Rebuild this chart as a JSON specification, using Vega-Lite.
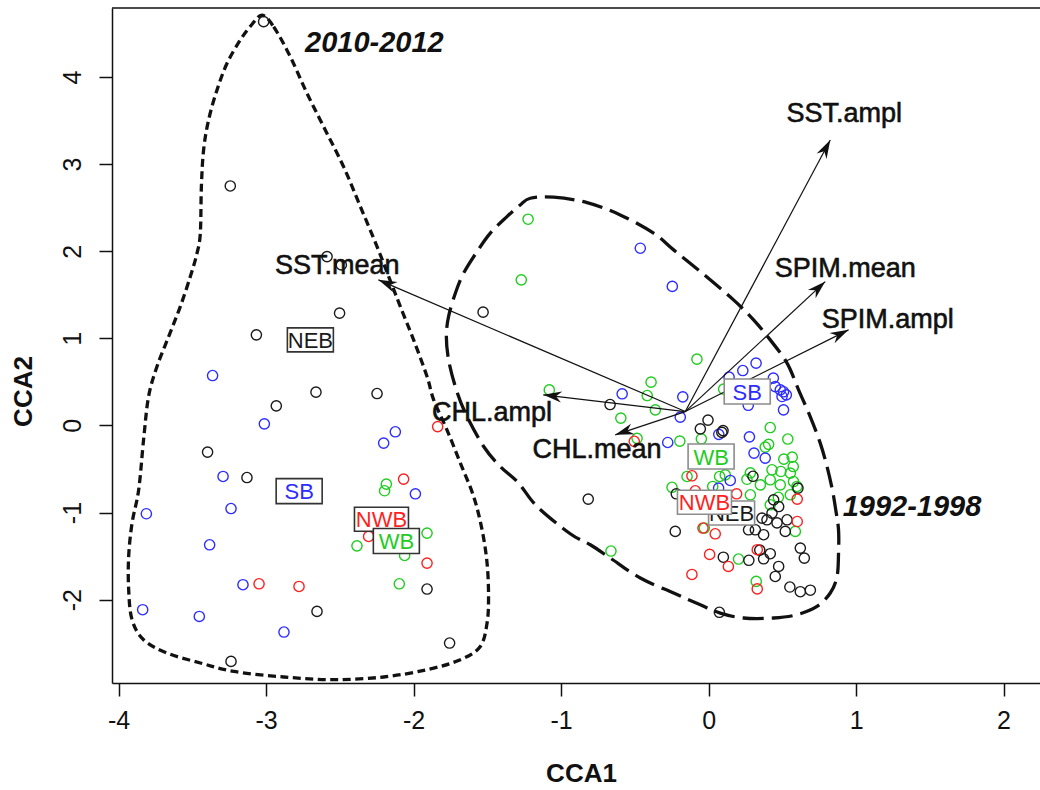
{
  "$schema": "https://vega.github.io/schema/vega-lite/v6.json",
  "width": 928,
  "height": 675,
  "autosize": {"type": "none"},
  "padding": {"left": 112, "top": 8, "right": 0, "bottom": 107},
  "background": "white",
  "config": {
    "view": {"stroke": null},
    "font": "Liberation Sans",
    "axis": {
      "grid": false,
      "domainColor": "#111",
      "domainWidth": 1.5,
      "tickColor": "#111",
      "tickWidth": 1.5,
      "tickSize": 13,
      "labelFont": "Liberation Sans",
      "labelFontSize": 25,
      "labelColor": "#111",
      "labelFlush": false,
      "labelOverlap": false,
      "titleFont": "Liberation Sans",
      "titleFontSize": 26,
      "titleFontWeight": "bold",
      "titleColor": "#111"
    }
  },
  "datasets": {
    "hullA": [
      {"i": 1, "x": -3.026, "y": 4.711}, {"i": 2, "x": -2.949, "y": 4.577}, {"i": 3, "x": -2.836, "y": 4.233},
      {"i": 4, "x": -2.723, "y": 3.813}, {"i": 5, "x": -2.599, "y": 3.392}, {"i": 6, "x": -2.475, "y": 2.971},
      {"i": 7, "x": -2.361, "y": 2.512}, {"i": 8, "x": -2.248, "y": 2.053}, {"i": 9, "x": -2.169, "y": 1.709},
      {"i": 10, "x": -2.09, "y": 1.364}, {"i": 11, "x": -2.0, "y": 0.982}, {"i": 12, "x": -1.909, "y": 0.561},
      {"i": 13, "x": -1.864, "y": 0.294}, {"i": 14, "x": -1.774, "y": -0.05}, {"i": 15, "x": -1.683, "y": -0.433},
      {"i": 16, "x": -1.593, "y": -0.816}, {"i": 17, "x": -1.536, "y": -1.198}, {"i": 18, "x": -1.502, "y": -1.58},
      {"i": 19, "x": -1.492, "y": -1.963}, {"i": 20, "x": -1.502, "y": -2.268}, {"i": 21, "x": -1.548, "y": -2.537},
      {"i": 22, "x": -1.683, "y": -2.69}, {"i": 23, "x": -1.909, "y": -2.804}, {"i": 24, "x": -2.203, "y": -2.888},
      {"i": 25, "x": -2.542, "y": -2.919}, {"i": 26, "x": -2.881, "y": -2.888}, {"i": 27, "x": -3.22, "y": -2.824},
      {"i": 28, "x": -3.446, "y": -2.727}, {"i": 29, "x": -3.672, "y": -2.613}, {"i": 30, "x": -3.831, "y": -2.46},
      {"i": 31, "x": -3.909, "y": -2.231}, {"i": 32, "x": -3.932, "y": -1.886}, {"i": 33, "x": -3.932, "y": -1.504},
      {"i": 34, "x": -3.909, "y": -1.121}, {"i": 35, "x": -3.864, "y": -0.739}, {"i": 36, "x": -3.831, "y": -0.165},
      {"i": 37, "x": -3.797, "y": 0.332}, {"i": 38, "x": -3.74, "y": 0.676}, {"i": 39, "x": -3.661, "y": 1.02},
      {"i": 40, "x": -3.582, "y": 1.364}, {"i": 41, "x": -3.514, "y": 1.709}, {"i": 42, "x": -3.468, "y": 1.981},
      {"i": 43, "x": -3.446, "y": 2.21}, {"i": 44, "x": -3.439, "y": 2.741}, {"i": 45, "x": -3.424, "y": 3.162},
      {"i": 46, "x": -3.39, "y": 3.507}, {"i": 47, "x": -3.333, "y": 3.851}, {"i": 48, "x": -3.265, "y": 4.157},
      {"i": 49, "x": -3.175, "y": 4.425}, {"i": 50, "x": -3.094, "y": 4.608}
    ],
    "hullB": [
      {"i": 1, "x": -1.209, "y": 2.608}, {"i": 2, "x": -1.051, "y": 2.62}, {"i": 3, "x": -0.824, "y": 2.558},
      {"i": 4, "x": -0.599, "y": 2.417}, {"i": 5, "x": -0.373, "y": 2.207}, {"i": 6, "x": -0.237, "y": 2.015},
      {"i": 7, "x": -0.056, "y": 1.766}, {"i": 8, "x": 0.169, "y": 1.441}, {"i": 9, "x": 0.305, "y": 1.212},
      {"i": 10, "x": 0.418, "y": 0.982}, {"i": 11, "x": 0.532, "y": 0.715}, {"i": 12, "x": 0.61, "y": 0.408},
      {"i": 13, "x": 0.689, "y": 0.102}, {"i": 14, "x": 0.757, "y": -0.203}, {"i": 15, "x": 0.803, "y": -0.472},
      {"i": 16, "x": 0.839, "y": -0.739}, {"i": 17, "x": 0.862, "y": -0.968}, {"i": 18, "x": 0.881, "y": -1.198},
      {"i": 19, "x": 0.881, "y": -1.465}, {"i": 20, "x": 0.871, "y": -1.734}, {"i": 21, "x": 0.825, "y": -1.924},
      {"i": 22, "x": 0.735, "y": -2.078}, {"i": 23, "x": 0.599, "y": -2.173}, {"i": 24, "x": 0.441, "y": -2.211},
      {"i": 25, "x": 0.237, "y": -2.211}, {"i": 26, "x": 0.079, "y": -2.154}, {"i": 27, "x": -0.056, "y": -2.059},
      {"i": 28, "x": -0.237, "y": -1.924}, {"i": 29, "x": -0.463, "y": -1.752}, {"i": 30, "x": -0.666, "y": -1.523},
      {"i": 31, "x": -0.802, "y": -1.37}, {"i": 32, "x": -0.938, "y": -1.244}, {"i": 33, "x": -1.163, "y": -0.931},
      {"i": 34, "x": -1.29, "y": -0.659}, {"i": 35, "x": -1.412, "y": -0.472}, {"i": 36, "x": -1.525, "y": -0.242},
      {"i": 37, "x": -1.649, "y": 0.141}, {"i": 38, "x": -1.717, "y": 0.446}, {"i": 39, "x": -1.763, "y": 0.753},
      {"i": 40, "x": -1.778, "y": 1.02}, {"i": 41, "x": -1.763, "y": 1.25}, {"i": 42, "x": -1.717, "y": 1.518},
      {"i": 43, "x": -1.661, "y": 1.748}, {"i": 44, "x": -1.57, "y": 1.995}, {"i": 45, "x": -1.48, "y": 2.207},
      {"i": 46, "x": -1.367, "y": 2.397}, {"i": 47, "x": -1.277, "y": 2.531}
    ],
    "pts": [
      {"x": -3.017, "y": 4.635, "r": "NEB"}, {"x": -3.243, "y": 2.749, "r": "NEB"}, {"x": -2.587, "y": 1.938, "r": "NEB"},
      {"x": -2.49, "y": 1.843, "r": "NEB"}, {"x": -2.502, "y": 1.289, "r": "NEB"}, {"x": -3.066, "y": 1.04, "r": "NEB"},
      {"x": -1.529, "y": 1.3, "r": "NEB"}, {"x": -2.662, "y": 0.382, "r": "NEB"}, {"x": -2.248, "y": 0.366, "r": "NEB"},
      {"x": -2.931, "y": 0.225, "r": "NEB"}, {"x": -3.397, "y": -0.306, "r": "NEB"}, {"x": -3.13, "y": -0.598, "r": "NEB"},
      {"x": -2.655, "y": -2.135, "r": "NEB"}, {"x": -1.909, "y": -1.878, "r": "NEB"}, {"x": -1.756, "y": -2.498, "r": "NEB"},
      {"x": -3.238, "y": -2.709, "r": "NEB"},
      {"x": -3.363, "y": 0.573, "r": "SB"}, {"x": -3.012, "y": 0.018, "r": "SB"}, {"x": -2.124, "y": -0.073, "r": "SB"},
      {"x": -2.203, "y": -0.203, "r": "SB"}, {"x": -3.292, "y": -0.586, "r": "SB"}, {"x": -1.988, "y": -0.785, "r": "SB"},
      {"x": -3.812, "y": -1.014, "r": "SB"}, {"x": -3.238, "y": -0.954, "r": "SB"}, {"x": -3.383, "y": -1.37, "r": "SB"},
      {"x": -3.157, "y": -1.829, "r": "SB"}, {"x": -3.837, "y": -2.116, "r": "SB"}, {"x": -3.453, "y": -2.193, "r": "SB"},
      {"x": -2.879, "y": -2.372, "r": "SB"},
      {"x": -1.837, "y": -0.013, "r": "NWB"}, {"x": -2.068, "y": -0.616, "r": "NWB"}, {"x": -2.305, "y": -1.275, "r": "NWB"},
      {"x": -1.909, "y": -1.58, "r": "NWB"}, {"x": -3.048, "y": -1.818, "r": "NWB"}, {"x": -2.777, "y": -1.849, "r": "NWB"},
      {"x": -2.185, "y": -0.674, "r": "WB"}, {"x": -2.197, "y": -0.75, "r": "WB"}, {"x": -1.909, "y": -1.236, "r": "WB"},
      {"x": -2.384, "y": -1.382, "r": "WB"}, {"x": -2.061, "y": -1.493, "r": "WB"}, {"x": -2.097, "y": -1.818, "r": "WB"},
      {"x": -1.224, "y": 2.367, "r": "WB"}, {"x": -1.27, "y": 1.671, "r": "WB"}, {"x": -0.079, "y": 0.761, "r": "WB"},
      {"x": -0.39, "y": 0.497, "r": "WB"}, {"x": -1.08, "y": 0.408, "r": "WB"}, {"x": -0.416, "y": 0.343, "r": "WB"},
      {"x": -0.361, "y": 0.179, "r": "WB"}, {"x": -0.595, "y": 0.084, "r": "WB"}, {"x": -0.485, "y": -0.148, "r": "WB"},
      {"x": 0.102, "y": 0.417, "r": "WB"}, {"x": -0.195, "y": -0.18, "r": "WB"}, {"x": -0.049, "y": -0.154, "r": "WB"},
      {"x": 0.418, "y": -0.024, "r": "WB"}, {"x": 0.537, "y": -0.156, "r": "WB"}, {"x": 0.384, "y": -0.249, "r": "WB"},
      {"x": 0.407, "y": -0.217, "r": "WB"}, {"x": 0.51, "y": -0.387, "r": "WB"}, {"x": 0.567, "y": -0.364, "r": "WB"},
      {"x": 0.574, "y": -0.472, "r": "WB"}, {"x": 0.43, "y": -0.509, "r": "WB"}, {"x": 0.49, "y": -0.529, "r": "WB"},
      {"x": 0.554, "y": -0.547, "r": "WB"}, {"x": -0.146, "y": -0.586, "r": "WB"}, {"x": 0.075, "y": -0.586, "r": "WB"},
      {"x": 0.113, "y": -0.567, "r": "WB"}, {"x": 0.26, "y": -0.618, "r": "WB"}, {"x": 0.351, "y": -0.682, "r": "WB"},
      {"x": 0.418, "y": -0.624, "r": "WB"}, {"x": 0.486, "y": -0.682, "r": "WB"}, {"x": 0.576, "y": -0.644, "r": "WB"},
      {"x": 0.599, "y": -0.701, "r": "WB"}, {"x": -0.248, "y": -0.71, "r": "WB"}, {"x": 0.028, "y": -0.701, "r": "WB"},
      {"x": 0.283, "y": -0.796, "r": "WB"}, {"x": 0.554, "y": -0.796, "r": "WB"}, {"x": 0.473, "y": -0.825, "r": "WB"},
      {"x": 0.418, "y": -0.911, "r": "WB"}, {"x": 0.588, "y": -1.217, "r": "WB"}, {"x": -0.029, "y": -1.178, "r": "WB"},
      {"x": 0.203, "y": -1.534, "r": "WB"}, {"x": -0.662, "y": -1.442, "r": "WB"}, {"x": 0.323, "y": -1.791, "r": "WB"},
      {"x": 0.283, "y": -0.544, "r": "WB"},
      {"x": -0.463, "y": 2.034, "r": "SB"}, {"x": -0.246, "y": 1.596, "r": "SB"}, {"x": -0.586, "y": 0.363, "r": "SB"},
      {"x": -0.175, "y": 0.328, "r": "SB"}, {"x": -0.192, "y": 0.095, "r": "SB"}, {"x": 0.322, "y": 0.715, "r": "SB"},
      {"x": 0.232, "y": 0.63, "r": "SB"}, {"x": 0.139, "y": 0.554, "r": "SB"}, {"x": 0.439, "y": 0.543, "r": "SB"},
      {"x": 0.452, "y": 0.446, "r": "SB"}, {"x": 0.486, "y": 0.408, "r": "SB"}, {"x": 0.508, "y": 0.386, "r": "SB"},
      {"x": 0.498, "y": 0.332, "r": "SB"}, {"x": 0.527, "y": 0.351, "r": "SB"}, {"x": 0.269, "y": 0.231, "r": "SB"},
      {"x": 0.508, "y": 0.179, "r": "SB"}, {"x": 0.069, "y": -0.102, "r": "SB"}, {"x": 0.277, "y": -0.131, "r": "SB"},
      {"x": -0.277, "y": -0.196, "r": "SB"}, {"x": 0.308, "y": -0.318, "r": "SB"}, {"x": 0.384, "y": -0.375, "r": "SB"},
      {"x": 0.147, "y": -0.632, "r": "SB"}, {"x": 0.068, "y": -0.719, "r": "SB"},
      {"x": -0.668, "y": 0.24, "r": "NEB"}, {"x": -0.004, "y": 0.061, "r": "NEB"}, {"x": -0.056, "y": -0.039, "r": "NEB"},
      {"x": 0.098, "y": -0.059, "r": "NEB"}, {"x": 0.09, "y": -0.08, "r": "NEB"}, {"x": 0.301, "y": -0.584, "r": "NEB"},
      {"x": 0.606, "y": -0.719, "r": "NEB"}, {"x": -0.816, "y": -0.846, "r": "NEB"}, {"x": -0.219, "y": -0.785, "r": "NEB"},
      {"x": 0.441, "y": -0.854, "r": "NEB"}, {"x": 0.475, "y": -0.931, "r": "NEB"}, {"x": 0.43, "y": -1.006, "r": "NEB"},
      {"x": 0.396, "y": -1.083, "r": "NEB"}, {"x": 0.362, "y": -1.064, "r": "NEB"}, {"x": 0.464, "y": -1.118, "r": "NEB"},
      {"x": 0.532, "y": -1.083, "r": "NEB"}, {"x": 0.52, "y": -1.217, "r": "NEB"}, {"x": 0.271, "y": -1.198, "r": "NEB"},
      {"x": 0.317, "y": -1.198, "r": "NEB"}, {"x": 0.373, "y": -1.255, "r": "NEB"}, {"x": -0.226, "y": -1.217, "r": "NEB"},
      {"x": 0.622, "y": -1.408, "r": "NEB"}, {"x": 0.649, "y": -1.523, "r": "NEB"}, {"x": 0.347, "y": -1.431, "r": "NEB"},
      {"x": 0.418, "y": -1.473, "r": "NEB"}, {"x": 0.373, "y": -1.531, "r": "NEB"}, {"x": 0.273, "y": -1.548, "r": "NEB"},
      {"x": 0.1, "y": -1.513, "r": "NEB"}, {"x": 0.475, "y": -1.619, "r": "NEB"}, {"x": 0.452, "y": -1.734, "r": "NEB"},
      {"x": 0.551, "y": -1.855, "r": "NEB"}, {"x": 0.622, "y": -1.909, "r": "NEB"}, {"x": 0.69, "y": -1.892, "r": "NEB"},
      {"x": 0.073, "y": -2.145, "r": "NEB"},
      {"x": -0.504, "y": -0.182, "r": "NWB"}, {"x": -0.113, "y": -0.578, "r": "NWB"}, {"x": -0.09, "y": -0.75, "r": "NWB"},
      {"x": 0.19, "y": -0.785, "r": "NWB"}, {"x": 0.601, "y": -0.846, "r": "NWB"}, {"x": 0.601, "y": -1.103, "r": "NWB"},
      {"x": -0.038, "y": -1.178, "r": "NWB"}, {"x": 0.045, "y": -1.244, "r": "NWB"}, {"x": 0.007, "y": -1.481, "r": "NWB"},
      {"x": 0.33, "y": -1.427, "r": "NWB"}, {"x": 0.134, "y": -1.619, "r": "NWB"}, {"x": -0.113, "y": -1.711, "r": "NWB"},
      {"x": 0.33, "y": -1.877, "r": "NWB"}
    ],
    "arrows": [
      {"v": "SST.ampl", "x0": -0.158, "y0": 0.159, "x": 0.825, "y": 3.277, "lx": 0.92, "ly": 3.478},
      {"v": "SPIM.mean", "x0": -0.158, "y0": 0.159, "x": 0.791, "y": 1.651, "lx": 0.927, "ly": 1.709},
      {"v": "SPIM.ampl", "x0": -0.158, "y0": 0.159, "x": 0.949, "y": 1.097, "lx": 1.215, "ly": 1.12},
      {"v": "SST.mean", "x0": -0.158, "y0": 0.159, "x": -2.239, "y": 1.671, "lx": -2.517, "ly": 1.74},
      {"v": "CHL.ampl", "x0": -0.158, "y0": 0.159, "x": -1.121, "y": 0.351, "lx": -1.468, "ly": 0.053},
      {"v": "CHL.mean", "x0": -0.158, "y0": 0.159, "x": -0.633, "y": -0.108, "lx": -0.757, "ly": -0.375}
    ],
    "cent": [
      {"r": "NEB", "p": "2010-2012", "x": -2.7, "y": 0.982},
      {"r": "NWB", "p": "2010-2012", "x": -2.218, "y": -1.077},
      {"r": "SB", "p": "2010-2012", "x": -2.776, "y": -0.754},
      {"r": "WB", "p": "2010-2012", "x": -2.117, "y": -1.326},
      {"r": "NEB", "p": "1992-1998", "x": 0.156, "y": -1.006},
      {"r": "NWB", "p": "1992-1998", "x": -0.028, "y": -0.882},
      {"r": "SB", "p": "1992-1998", "x": 0.262, "y": 0.389},
      {"r": "WB", "p": "1992-1998", "x": 0.017, "y": -0.357}
    ],
    "periods": [
      {"p": "2010-2012", "x": -2.266, "y": 4.29},
      {"p": "1992-1998", "x": 1.379, "y": -1.045}
    ]
  },
  "layer": [
    {
      "data": {"name": "hullA"},
      "mark": {"type": "line", "interpolate": "cardinal-closed", "color": "#111", "strokeWidth": 3.3, "strokeDash": [8, 4.5]},
      "encoding": {
        "x": {"field": "x", "type": "quantitative",
          "scale": {"domain": [-4.045, 2.247], "nice": false, "zero": false},
          "axis": {"title": "CCA1", "values": [-4, -3, -2, -1, 0, 1, 2], "labelExpr": "'' + datum.value",
            "labelBaseline": "middle", "labelPadding": 24, "titleX": 469, "titleY": 90, "titleBaseline": "middle", "titleAlign": "center"}},
        "y": {"field": "y", "type": "quantitative",
          "scale": {"domain": [-2.957, 4.792], "nice": false, "zero": false},
          "axis": {"title": "CCA2", "values": [-2, -1, 0, 1, 2, 3, 4], "labelExpr": "'' + datum.value",
            "labelAngle": -90, "labelAlign": "center", "labelBaseline": "middle", "labelPadding": 27,
            "titleX": -89, "titleY": 383, "titleAngle": -90, "titleBaseline": "middle", "titleAlign": "center"}},
        "order": {"field": "i", "type": "quantitative"}
      }
    },
    {
      "data": {"name": "hullB"},
      "mark": {"type": "line", "interpolate": "cardinal-closed", "color": "#111", "strokeWidth": 3.3, "strokeDash": [21, 8]},
      "encoding": {
        "x": {"field": "x", "type": "quantitative"},
        "y": {"field": "y", "type": "quantitative"},
        "order": {"field": "i", "type": "quantitative"}
      }
    },
    {
      "data": {"name": "pts"},
      "mark": {"type": "point", "filled": false, "size": 105, "strokeWidth": 1.4, "opacity": 1},
      "encoding": {
        "x": {"field": "x", "type": "quantitative"},
        "y": {"field": "y", "type": "quantitative"},
        "color": {"field": "r", "type": "nominal",
          "scale": {"domain": ["NEB", "SB", "NWB", "WB"], "range": ["#1a1a1a", "#2d2dff", "#ff1f1f", "#1fcc1f"]},
          "legend": null}
      }
    },
    {
      "data": {"name": "arrows"},
      "mark": {"type": "rule", "color": "#111", "strokeWidth": 1.2},
      "encoding": {
        "x": {"field": "x0", "type": "quantitative"},
        "y": {"field": "y0", "type": "quantitative"},
        "x2": {"field": "x"},
        "y2": {"field": "y"}
      }
    },
    {
      "data": {"name": "arrows"},
      "mark": {"type": "point", "shape": "M0,0L0.55,1.8L0,1.25L-0.55,1.8Z", "size": 420, "filled": true, "color": "#111", "opacity": 1, "strokeWidth": 0.5},
      "encoding": {
        "x": {"field": "x", "type": "quantitative"},
        "y": {"field": "y", "type": "quantitative"},
        "angle": {"field": "v", "type": "nominal",
          "scale": {"type": "ordinal", "domain": ["SST.ampl", "SPIM.mean", "SPIM.ampl", "SST.mean", "CHL.ampl", "CHL.mean"],
            "range": [28.1, 47.1, 63.4, 293.2, 276.7, 251.6]}}
      }
    },
    {
      "data": {"name": "arrows"},
      "mark": {"type": "text", "font": "Liberation Sans", "fontSize": 27, "color": "#111", "stroke": "#111", "strokeWidth": 0.6, "align": "center", "baseline": "alphabetic"},
      "encoding": {
        "x": {"field": "lx", "type": "quantitative"},
        "y": {"field": "ly", "type": "quantitative"},
        "text": {"field": "v"}
      }
    },
    {
      "data": {"name": "cent"},
      "transform": [{"filter": "datum.r === 'NEB'"}],
      "mark": {"type": "point", "shape": "M-23,-12H23V12H-23Z", "size": 4, "filled": true, "fill": "white", "strokeWidth": 1.6, "opacity": 1},
      "encoding": {
        "x": {"field": "x", "type": "quantitative"},
        "y": {"field": "y", "type": "quantitative"},
        "stroke": {"field": "p", "type": "nominal", "scale": {"domain": ["2010-2012", "1992-1998"], "range": ["#333333", "#8c8c8c"]}, "legend": null}
      }
    },
    {
      "data": {"name": "cent"},
      "transform": [{"filter": "datum.r === 'NEB'"}],
      "mark": {"type": "text", "font": "Liberation Sans", "fontSize": 22, "align": "center", "baseline": "middle", "dy": 1},
      "encoding": {
        "x": {"field": "x", "type": "quantitative"},
        "y": {"field": "y", "type": "quantitative"},
        "text": {"field": "r"},
        "color": {"field": "r", "type": "nominal", "scale": {"domain": ["NEB", "SB", "NWB", "WB"], "range": ["#1a1a1a", "#2d2dff", "#ff1f1f", "#1fcc1f"]}, "legend": null}
      }
    },
    {
      "data": {"name": "cent"},
      "transform": [{"filter": "datum.r === 'NWB'"}],
      "mark": {"type": "point", "shape": "M-27,-12H27V12H-27Z", "size": 4, "filled": true, "fill": "white", "strokeWidth": 1.6, "opacity": 1},
      "encoding": {
        "x": {"field": "x", "type": "quantitative"},
        "y": {"field": "y", "type": "quantitative"},
        "stroke": {"field": "p", "type": "nominal", "scale": {"domain": ["2010-2012", "1992-1998"], "range": ["#333333", "#8c8c8c"]}, "legend": null}
      }
    },
    {
      "data": {"name": "cent"},
      "transform": [{"filter": "datum.r === 'NWB'"}],
      "mark": {"type": "text", "font": "Liberation Sans", "fontSize": 22, "align": "center", "baseline": "middle", "dy": 1},
      "encoding": {
        "x": {"field": "x", "type": "quantitative"},
        "y": {"field": "y", "type": "quantitative"},
        "text": {"field": "r"},
        "color": {"field": "r", "type": "nominal", "scale": {"domain": ["NEB", "SB", "NWB", "WB"], "range": ["#1a1a1a", "#2d2dff", "#ff1f1f", "#1fcc1f"]}, "legend": null}
      }
    },
    {
      "data": {"name": "cent"},
      "transform": [{"filter": "datum.r === 'SB'"}],
      "mark": {"type": "point", "shape": "M-23,-12.5H23V12.5H-23Z", "size": 4, "filled": true, "fill": "white", "strokeWidth": 1.6, "opacity": 1},
      "encoding": {
        "x": {"field": "x", "type": "quantitative"},
        "y": {"field": "y", "type": "quantitative"},
        "stroke": {"field": "p", "type": "nominal", "scale": {"domain": ["2010-2012", "1992-1998"], "range": ["#333333", "#8c8c8c"]}, "legend": null}
      }
    },
    {
      "data": {"name": "cent"},
      "transform": [{"filter": "datum.r === 'SB'"}],
      "mark": {"type": "text", "font": "Liberation Sans", "fontSize": 22, "align": "center", "baseline": "middle", "dy": 1},
      "encoding": {
        "x": {"field": "x", "type": "quantitative"},
        "y": {"field": "y", "type": "quantitative"},
        "text": {"field": "r"},
        "color": {"field": "r", "type": "nominal", "scale": {"domain": ["NEB", "SB", "NWB", "WB"], "range": ["#1a1a1a", "#2d2dff", "#ff1f1f", "#1fcc1f"]}, "legend": null}
      }
    },
    {
      "data": {"name": "cent"},
      "transform": [{"filter": "datum.r === 'WB'"}],
      "mark": {"type": "point", "shape": "M-23,-12.5H23V12.5H-23Z", "size": 4, "filled": true, "fill": "white", "strokeWidth": 1.6, "opacity": 1},
      "encoding": {
        "x": {"field": "x", "type": "quantitative"},
        "y": {"field": "y", "type": "quantitative"},
        "stroke": {"field": "p", "type": "nominal", "scale": {"domain": ["2010-2012", "1992-1998"], "range": ["#333333", "#8c8c8c"]}, "legend": null}
      }
    },
    {
      "data": {"name": "cent"},
      "transform": [{"filter": "datum.r === 'WB'"}],
      "mark": {"type": "text", "font": "Liberation Sans", "fontSize": 22, "align": "center", "baseline": "middle", "dy": 1},
      "encoding": {
        "x": {"field": "x", "type": "quantitative"},
        "y": {"field": "y", "type": "quantitative"},
        "text": {"field": "r"},
        "color": {"field": "r", "type": "nominal", "scale": {"domain": ["NEB", "SB", "NWB", "WB"], "range": ["#1a1a1a", "#2d2dff", "#ff1f1f", "#1fcc1f"]}, "legend": null}
      }
    },
    {
      "data": {"name": "periods"},
      "mark": {"type": "text", "font": "Liberation Sans", "fontSize": 29, "fontWeight": "bold", "fontStyle": "italic", "color": "#111", "align": "center", "baseline": "alphabetic"},
      "encoding": {
        "x": {"field": "x", "type": "quantitative"},
        "y": {"field": "y", "type": "quantitative"},
        "text": {"field": "p"}
      }
    },
    {
      "data": {"values": [{"edge": 4.792}]},
      "mark": {"type": "rule", "color": "#111", "strokeWidth": 1.5},
      "encoding": {
        "y": {"field": "edge", "type": "quantitative"}
      }
    }
  ]
}
